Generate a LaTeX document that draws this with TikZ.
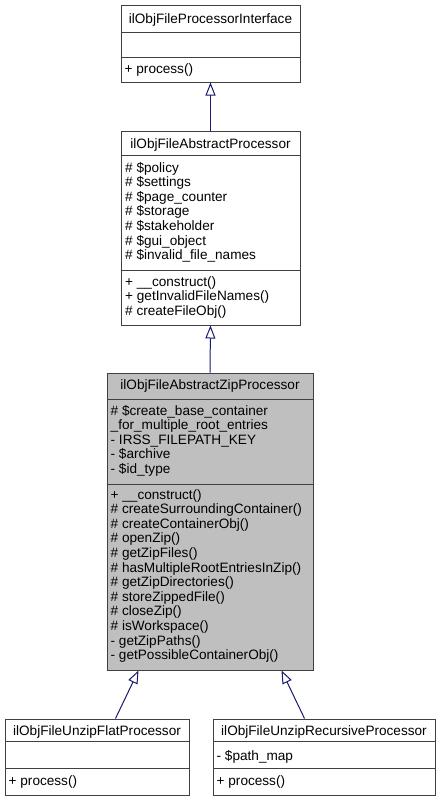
\documentclass[tikz,border=0pt]{standalone}
\usepackage{fontspec}
\setmainfont{Liberation Sans}
\usetikzlibrary{arrows.meta,calc}
\definecolor{edgeblue}{HTML}{191970}
\definecolor{bord}{HTML}{404040}
\definecolor{hl}{HTML}{BFBFBF}
\tikzset{
  cls/.style={draw=bord,line width=1pt,inner sep=0pt,fill=white},
  sep/.style={draw=bord,line width=1pt},
  txt/.style={anchor=base west,inner sep=0pt,font=\fontsize{13.6}{14.6}\selectfont},
  ttl/.style={anchor=base,inner sep=0pt,font=\fontsize{13.6}{14.6}\selectfont},
  inh/.style={draw=edgeblue,line width=1pt,-{Triangle[open,length=13pt,width=10pt,fill=white]}}
}
\begin{document}
\begin{tikzpicture}[x=1pt,y=-1pt]
\useasboundingbox (0,0) rectangle (440,801);
% boxes
\node[cls,minimum width=179pt,minimum height=77pt] (b1) at (210.5,43.5) {};
\node[cls,minimum width=179pt,minimum height=194pt] (b2) at (210.5,228) {};
\node[cls,fill=hl,minimum width=206pt,minimum height=297pt] (b3) at (210,521.5) {};
\node[cls,minimum width=184pt,minimum height=76pt] (b4) at (97,757) {};
\node[cls,minimum width=222pt,minimum height=76pt] (b5) at (324,757) {};
% dividers
\draw[sep] (121,32) -- (300,32);
\draw[sep] (121,57) -- (300,57);
\draw[sep] (121,155) -- (300,155);
\draw[sep] (121,270) -- (300,270);
\draw[sep] (107,399) -- (313,399);
\draw[sep] (107,484) -- (313,484);
\draw[sep] (5,741) -- (189,741);
\draw[sep] (5,768) -- (189,768);
\draw[sep] (213,741) -- (435,741);
\draw[sep] (213,768) -- (435,768);
% box 1
\node[ttl] (t1) at (210.5,23) {ilObjFileProcessorInterface};
\node[txt] (m1) at (124.5,73) {+ process()};
% box 2
\node[ttl] (t2) at (210.5,148) {ilObjFileAbstractProcessor};
\foreach \s [count=\i from 0] in {\# \$policy,\# \$settings,\# \$page\_counter,\# \$storage,\# \$stakeholder,\# \$gui\_object,\# \$invalid\_file\_names}
  \node[txt] (a2\i) at (125,172+14.6*\i) {\s};
\foreach \s [count=\i from 0] in {+ \_\_construct(),+ getInvalidFileNames(),\# createFileObj()}
  \node[txt] (m2\i) at (125,286+14.6*\i) {\s};
% box 3
\node[ttl] (t3) at (210,389) {ilObjFileAbstractZipProcessor};
\foreach \s [count=\i from 0] in {\# \$create\_base\_container,\_for\_multiple\_root\_entries,- IRSS\_FILEPATH\_KEY,- \$archive,- \$id\_type}
  \node[txt] (a3\i) at (110.5,415+14.6*\i) {\s};
\foreach \s [count=\i from 0] in {+ \_\_construct(),\# createSurroundingContainer(),\# createContainerObj(),\# openZip(),\# getZipFiles(),\# hasMultipleRootEntriesInZip(),\# getZipDirectories(),\# storeZippedFile(),\# closeZip(),\# isWorkspace(),- getZipPaths(),- getPossibleContainerObj()}
  \node[txt] (m3\i) at (110.5,499+14.6*\i) {\s};
% box 4
\node[ttl] (t4) at (97,735) {ilObjFileUnzipFlatProcessor};
\node[txt] (m4) at (8.5,785) {+ process()};
% box 5
\node[ttl] (t5) at (324,735) {ilObjFileUnzipRecursiveProcessor};
\node[txt] (a5) at (216.5,760) {- \$path\_map};
\node[txt] (m5) at (216.5,785) {+ process()};
% connectors
\coordinate (s4) at ($(b4.north west)+(111,0)$);
\coordinate (e4) at ($(b3.south west)+(32,0)$);
\coordinate (s5) at ($(b5.north west)+(92,0)$);
\coordinate (e5) at ($(b3.south west)+(175,0)$);
\draw[inh] (b2.north) -- (b1.south);
\draw[inh] (b3.north) -- (b2.south);
\draw[inh] (s4) -- (e4);
\draw[inh] (s5) -- (e5);
\end{tikzpicture}
\end{document}
